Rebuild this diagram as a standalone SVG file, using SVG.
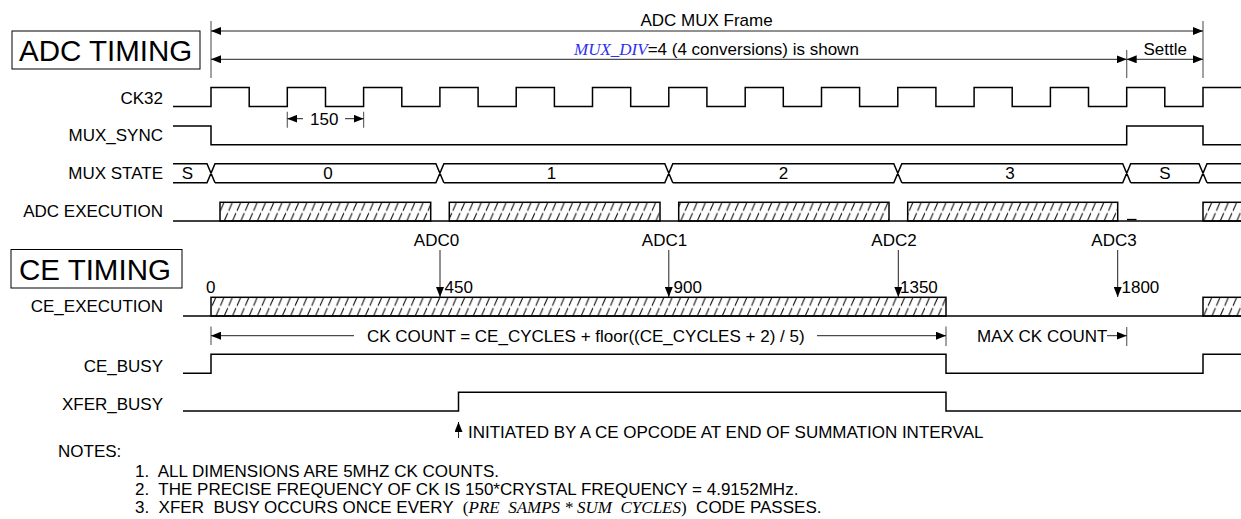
<svg xmlns="http://www.w3.org/2000/svg" width="1241" height="519" viewBox="0 0 1241 519">
<style>
text{font-family:"Liberation Sans",Arial,sans-serif;font-size:17px;fill:#000}
.lbl{text-anchor:end}
.mid{text-anchor:middle}
.title{font-size:29.5px}
.sig{fill:none;stroke:#000;stroke-width:1.5}
.box{fill:url(#hatch);stroke:#000;stroke-width:1.5}
.dim{fill:none;stroke:#222;stroke-width:1}
.tick{fill:none;stroke:#666;stroke-width:1.2}
.ser{font-family:"Liberation Serif","Times New Roman",serif;font-style:italic}
.up{font-family:"Liberation Serif","Times New Roman",serif}
</style>
<defs>
<marker id="ah" viewBox="0 0 10 8" refX="10" refY="4" markerWidth="10" markerHeight="8" markerUnits="userSpaceOnUse" orient="auto-start-reverse">
<path d="M0,0 L10,4 L0,8 z" fill="#000"/>
</marker>
<pattern id="hatch" patternUnits="userSpaceOnUse" x="0" y="202.3" width="8.3" height="19">
<rect width="8.3" height="19" fill="#fff"/>
<path d="M0,19 L8.3,0 M-8.3,19 L0,0 M8.3,19 L16.6,0" stroke="#000" stroke-width="1" stroke-dasharray="9 2.5" fill="none"/>
</pattern>
</defs>
<rect width="1241" height="519" fill="#fff"/>

<g id="adc-timing-title">
<rect x="12" y="31" width="188" height="38" fill="none" stroke="#000" stroke-width="1"/>
<text class="title" x="19" y="61">ADC TIMING</text>
</g>
<g id="ce-timing-title">
<rect x="11" y="249.5" width="171" height="38.5" fill="none" stroke="#000" stroke-width="1"/>
<text class="title" x="19" y="279.5">CE TIMING</text>
</g>

<g id="ck32">
<text class="lbl" x="163" y="104">CK32</text>
<path class="sig" d="M173,106.5 H211 V87.5 H249.2 V106.5 H287.3 V87.5 H325.5 V106.5 H363.6 V87.5 H401.8 V106.5 H439.9 V87.5 H478.1 V106.5 H516.2 V87.5 H554.4 V106.5 H592.5 V87.5 H630.7 V106.5 H668.8 V87.5 H706.9 V106.5 H745.2 V87.5 H783.3 V106.5 H821.5 V87.5 H859.6 V106.5 H897.8 V87.5 H935.9 V106.5 H974.1 V87.5 H1012.2 V106.5 H1050.4 V87.5 H1088.5 V106.5 H1126.7 V87.5 H1164.8 V106.5 H1203 V87.5 H1245"/>
</g>

<g id="mux-sync">
<text class="lbl" x="163" y="141">MUX_SYNC</text>
<path class="sig" d="M173,126 H211 V144.7 H1126.7 V126 H1203 V144.7 H1245"/>
</g>

<g id="mux-state">
<text class="lbl" x="163" y="179">MUX STATE</text>
<path class="sig" d="M173,163.7 H207 L215,182.7 M173,182.7 H207 L215,163.7 H435.9 L443.9,182.7 M215,182.7 H435.9 L443.9,163.7 H664.8 L672.8,182.7 M443.9,182.7 H664.8 L672.8,163.7 H893.8 L901.8,182.7 M672.8,182.7 H893.8 L901.8,163.7 H1122.7 L1130.7,182.7 M901.8,182.7 H1122.7 L1130.7,163.7 H1199 L1207,182.7 M1130.7,182.7 H1199 L1207,163.7 H1245 M1207,182.7 H1245"/>
<text class="mid" x="187.5" y="179">S</text>
<text class="mid" x="328" y="179">0</text>
<text class="mid" x="551.5" y="179">1</text>
<text class="mid" x="783.5" y="179">2</text>
<text class="mid" x="1010" y="179">3</text>
<text class="mid" x="1165" y="179">S</text>
</g>

<g id="adc-execution">
<text class="lbl" x="163" y="217">ADC EXECUTION</text>
<rect class="box" x="220" y="202.3" width="210.7" height="18.7"/>
<rect class="box" x="449.3" y="202.3" width="210.7" height="18.7"/>
<rect class="box" x="678.7" y="202.3" width="210.3" height="18.7"/>
<rect class="box" x="907.7" y="202.3" width="210" height="18.7"/>
<rect class="box" x="1203" y="202.3" width="60" height="18.7"/>
<path class="sig" d="M173,221 H1245"/>
<path class="sig" d="M1127,219.6 H1136.5"/>
</g>

<g id="adc-markers">
<text class="mid" x="436.5" y="245.5">ADC0</text>
<text class="mid" x="664.5" y="245.5">ADC1</text>
<text class="mid" x="894" y="245.5">ADC2</text>
<text class="mid" x="1114" y="245.5">ADC3</text>
</g>

<g id="ce-execution">
<text class="lbl" x="163" y="311.5">CE_EXECUTION</text>
<rect class="box" x="211" y="297.3" width="735" height="18.7"/>
<rect class="box" x="1203" y="297.3" width="60" height="18.7"/>
<path class="sig" d="M183,316 H1245"/>
<text x="206" y="293">0</text>
<text x="444.5" y="293.3">450</text>
<text x="673.5" y="293.3">900</text>
<text x="900" y="293.3">1350</text>
<text x="1121.5" y="293.3">1800</text>
</g>

<g id="ce-busy">
<text class="lbl" x="163" y="372">CE_BUSY</text>
<path class="sig" d="M183,373.3 H211 V354.3 H946 V373.3 H1203 V354.3 H1245"/>
</g>

<g id="xfer-busy">
<text class="lbl" x="163" y="410">XFER_BUSY</text>
<path class="sig" d="M183,411 H458.5 V392.3 H946 V411 H1245"/>
<text x="468" y="438">INITIATED BY A CE OPCODE AT END OF SUMMATION INTERVAL</text>
</g>

<g id="connectors">
<path class="tick" d="M211,21 V78 M1203,21 V78 M1126.7,50 V78"/>
<path class="dim" d="M211,31 H1203" marker-start="url(#ah)" marker-end="url(#ah)"/>
<path class="dim" d="M211,59.3 H1126.7" marker-start="url(#ah)" marker-end="url(#ah)"/>
<path class="dim" d="M1126.7,59.3 H1203" marker-start="url(#ah)" marker-end="url(#ah)"/>
<path class="tick" d="M287.3,111.7 V127.7 M363.6,111.7 V127.7"/>
<path class="dim" d="M303,118.7 H287.3" marker-end="url(#ah)"/>
<path class="dim" d="M345,118.7 H363.6" marker-end="url(#ah)"/>
<path class="dim" stroke="#444" d="M440,250 V297" marker-end="url(#ah)"/>
<path class="dim" stroke="#444" d="M668.8,250 V297" marker-end="url(#ah)"/>
<path class="dim" stroke="#444" d="M898.3,250 V297" marker-end="url(#ah)"/>
<path class="dim" stroke="#444" d="M1117.7,250 V297" marker-end="url(#ah)"/>
<path class="tick" d="M211,326.5 V345 M946,326.5 V346 M1126.7,327 V346"/>
<path class="dim" d="M354,335.7 H211" marker-end="url(#ah)"/>
<path class="dim" d="M817,335.7 H946" marker-end="url(#ah)"/>
<path class="dim" d="M1107,335.7 H1126.7" marker-end="url(#ah)"/>
<path class="dim" d="M458.5,438 V422" marker-end="url(#ah)"/>
</g>

<g id="dimension-labels">
<text class="mid" x="706.5" y="26">ADC MUX Frame</text>
<text x="574" y="55"><tspan class="ser" fill="#2f2fee">MUX_DIV</tspan>=4 (4 conversions) is shown</text>
<text x="1143.5" y="55">Settle</text>
<text x="310" y="124.5">150</text>
<text x="367" y="341.5">CK COUNT = CE_CYCLES + floor((CE_CYCLES + 2) / 5)</text>
<text x="977" y="341.5">MAX CK COUNT</text>
</g>

<g id="notes">
<text x="58" y="457">NOTES:</text>
<text x="135" y="477" xml:space="preserve">1.  ALL DIMENSIONS ARE 5MHZ CK COUNTS.</text>
<text x="135" y="495" xml:space="preserve">2.  THE PRECISE FREQUENCY OF CK IS 150*CRYSTAL FREQUENCY = 4.9152MHz.</text>
<text x="135" y="513" xml:space="preserve">3.  XFER  BUSY OCCURS ONCE EVERY  <tspan class="up">(</tspan><tspan class="ser">PRE  SAMPS * SUM  CYCLES</tspan><tspan class="up">)</tspan>  CODE PASSES.</text>
</g>
</svg>
